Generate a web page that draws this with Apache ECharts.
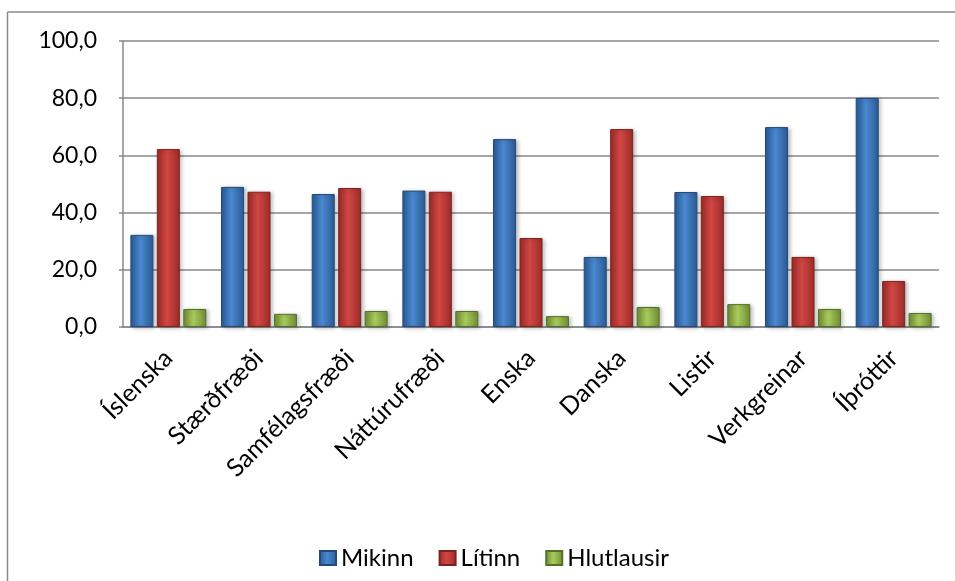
<!DOCTYPE html>
<html>
<head>
<meta charset="utf-8">
<script src="https://cdn.jsdelivr.net/npm/echarts@6/dist/echarts.min.js"></script>
<style>
  html, body { margin: 0; padding: 0; background: #fff; }
  #chart { width: 955px; height: 581px; }
</style>
</head>
<body>
<div id="chart"></div>
<script>
const categories = ["Íslenska", "Stærðfræði", "Samfélagsfræði", "Náttúrufræði", "Enska", "Danska", "Listir", "Verkgreinar", "Íþróttir"];
const mikinn = [32.2, 49.0, 46.5, 47.7, 65.7, 24.5, 47.2, 69.9, 80.1];
const litinn = [62.2, 47.3, 48.6, 47.3, 31.1, 69.2, 45.8, 24.5, 16.1];
const hlutlausir = [6.3, 4.6, 5.6, 5.6, 3.8, 7.0, 8.0, 6.3, 4.9];
const seriesNames = ["Mikinn", "Lítinn", "Hlutlausir"];

const font = "Lato, 'Open Sans', sans-serif";

// horizontal gradient to fake the bevelled Excel bars
const barFill = (edge, mid) => new echarts.graphic.LinearGradient(0, 0, 1, 0, [
  { offset: 0, color: edge },
  { offset: 0.45, color: mid },
  { offset: 1, color: edge },
]);

const makeSeries = (name, data, edge, mid, border) => ({
  name: name,
  type: "bar",
  data: data,
  barWidth: 23,
  barGap: "15%",
  itemStyle: {
    color: barFill(edge, mid),
    borderColor: border,
    borderWidth: 1,
    shadowBlur: 4,
    shadowColor: "rgba(0,0,0,0.25)",
    shadowOffsetX: 2,
    shadowOffsetY: 1,
  },
  emphasis: { disabled: true },
});

const chart = echarts.init(document.getElementById("chart"));
chart.setOption({
  animation: false,
  textStyle: { fontFamily: font },
  graphic: [
    { type: "line", shape: { x1: 7.5, y1: 12, x2: 955, y2: 12 }, style: { stroke: "#8a8a8a", lineWidth: 1.5 } },
    { type: "line", shape: { x1: 7.5, y1: 12, x2: 7.5, y2: 581 }, style: { stroke: "#8a8a8a", lineWidth: 1.5 } },
  ],
  grid: { left: 123, right: 16, top: 41, bottom: 254 },
  legend: {
    data: seriesNames,
    icon: "rect",
    bottom: 6,
    left: 314,
    itemWidth: 16,
    itemHeight: 14,
    itemGap: 25,
    textStyle: { fontSize: 24, color: "#000", fontFamily: font },
  },
  xAxis: {
    type: "category",
    data: categories,
    axisLine: { lineStyle: { color: "#888", width: 1.5 } },
    axisTick: { show: false },
    axisLabel: {
      rotate: 45,
      interval: 0,
      margin: 27,
      fontSize: 25,
      color: "#000",
      fontFamily: font,
    },
  },
  yAxis: {
    type: "value",
    min: 0,
    max: 100,
    interval: 20,
    axisLine: { show: true, lineStyle: { color: "#888", width: 1.5 } },
    axisTick: { show: true, length: 4, lineStyle: { color: "#888", width: 1.5 } },
    splitLine: { lineStyle: { color: "#888", width: 1.5 } },
    axisLabel: {
      margin: 26,
      fontSize: 23,
      color: "#000",
      fontFamily: font,
      formatter: (v) => v.toFixed(1).replace(".", ","),
    },
  },
  series: [
    makeSeries("Mikinn", mikinn, "#2a5a95", "#4a88d0", "#24497a"),
    makeSeries("Lítinn", litinn, "#9a2c29", "#d24643", "#7c2220"),
    makeSeries("Hlutlausir", hlutlausir, "#6f8c34", "#a9cb5c", "#55702a"),
  ],
});
</script>
</body>
</html>
